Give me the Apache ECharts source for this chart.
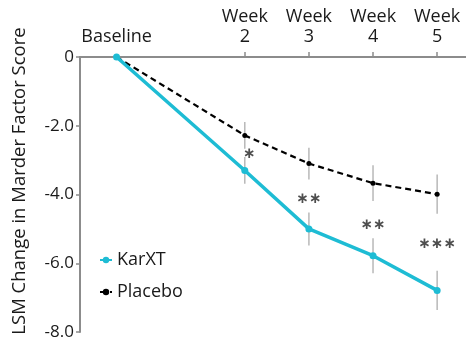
<!DOCTYPE html>
<html>
<head>
<meta charset="utf-8">
<script src="https://cdn.jsdelivr.net/npm/echarts@6/dist/echarts.min.js"></script>
<style>html,body{margin:0;padding:0;background:#fff}#c{width:466px;height:344px}</style>
</head>
<body>
<div id="c"></div>
<script>
var weeks = [0, 2, 3, 4, 5];
var tickLabels = ['Baseline', 'Week\n2', 'Week\n3', 'Week\n4', 'Week\n5'];
var karxt = [0, -3.3, -5.0, -5.78, -6.79];
var karxtErr = [0, 0.39, 0.48, 0.51, 0.57];
var placebo = [0, -2.28, -3.1, -3.67, -3.99];
var placeboErr = [0, 0.39, 0.46, 0.52, 0.57];
var sigWeeks = [2.07, 3, 4, 5];
var sigY = [-2.82, -4.12, -4.88, -5.44];
var sigLabels = ['\u2217', '\u2217\u2217', '\u2217\u2217', '\u2217\u2217\u2217'];

var FONT = 'Open Sans';
var chart = echarts.init(document.getElementById('c'));

function pairs(xs, ys) { return xs.map(function (x, i) { return [x, ys[i]]; }); }
function errData(vals, errs) {
  var out = [];
  for (var i = 0; i < vals.length; i++) if (errs[i] > 0) out.push([weeks[i], vals[i] - errs[i], vals[i] + errs[i]]);
  return out;
}
function errSeries(vals, errs) {
  return {
    type: 'custom', silent: true, z: 1,
    data: errData(vals, errs),
    encode: { x: 0, y: [1, 2] },
    renderItem: function (params, api) {
      var lo = api.coord([api.value(0), api.value(1)]);
      var hi = api.coord([api.value(0), api.value(2)]);
      return { type: 'line', shape: { x1: lo[0], y1: lo[1], x2: hi[0], y2: hi[1] },
        style: { stroke: '#b8b8b8', lineWidth: 1.5 } };
    }
  };
}

chart.setOption({
  animation: false,
  grid: { left: 80, right: 0, top: 57, bottom: 12, containLabel: false },
  xAxis: {
    type: 'value', position: 'top', min: -0.57, max: 5.45,
    axisLine: { show: true, onZero: false, lineStyle: { color: '#8c8c8c', width: 2 } },
    axisTick: { show: true, customValues: [2, 3, 4, 5], length: 5, inside: false, lineStyle: { color: '#8c8c8c', width: 1.5 } },
    axisLabel: {
      customValues: weeks, margin: 10,
      formatter: function (v) { return tickLabels[weeks.indexOf(v)]; },
      fontFamily: FONT, fontSize: 18, color: '#1a1a1a', lineHeight: 20
    },
    splitLine: { show: false }
  },
  yAxis: {
    type: 'value', min: -8, max: 0, interval: 2,
    axisLine: { show: true, onZero: false, lineStyle: { color: '#8c8c8c', width: 2 } },
    axisTick: { show: true, length: 4, lineStyle: { color: '#8c8c8c', width: 1.5 } },
    axisLabel: {
      margin: 6, fontFamily: FONT, fontSize: 17, color: '#1a1a1a',
      formatter: function (v) { return v === 0 ? '0' : v.toFixed(1); }
    },
    splitLine: { show: false }
  },
  legend: {
    orient: 'vertical', left: 94, top: 246, itemGap: 14,
    itemWidth: 12, itemHeight: 8,
    textStyle: { fontFamily: FONT, fontSize: 18, color: '#1a1a1a' },
    data: ['KarXT', 'Placebo']
  },
  graphic: [{
    type: 'text', x: 20, y: 181, rotation: Math.PI / 2,
    style: { text: 'LSM Change in Marder Factor Score', fontFamily: FONT, fontSize: 18.5,
      fill: '#1a1a1a', align: 'center', verticalAlign: 'middle' }
  }],
  series: [
    errSeries(placebo, placeboErr),
    errSeries(karxt, karxtErr),
    {
      name: 'Placebo', type: 'line', z: 3, data: pairs(weeks, placebo),
      symbol: 'circle', symbolSize: 5, smooth: false,
      lineStyle: { color: '#000', width: 2.2, type: [6, 4] },
      itemStyle: { color: '#000' }
    },
    {
      name: 'KarXT', type: 'line', z: 4, data: pairs(weeks, karxt),
      symbol: 'circle', symbolSize: 7,
      lineStyle: { color: '#1ebcd4', width: 3.5 },
      itemStyle: { color: '#1ebcd4' }
    },
    {
      type: 'scatter', z: 5, symbolSize: 0, silent: true,
      data: sigWeeks.map(function (w, i) { return { value: [w, sigY[i]], label: { formatter: sigLabels[i] } }; }),
      label: { show: true, position: 'inside', fontFamily: 'DejaVu Sans', fontSize: 15, fontWeight: 'bold', color: '#222' }
    }
  ]
});
</script>
</body>
</html>
